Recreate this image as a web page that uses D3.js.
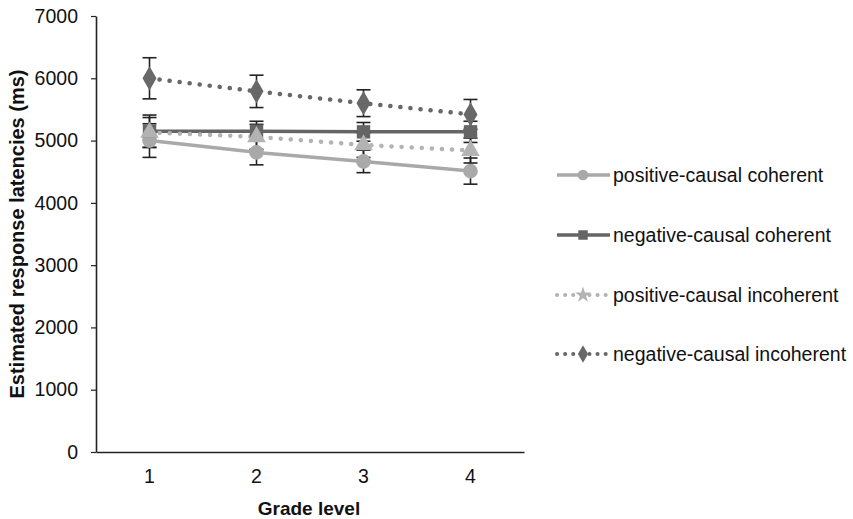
<!DOCTYPE html>
<html><head><meta charset="utf-8">
<script src="https://cdn.jsdelivr.net/npm/d3@7"></script>
<style>body{margin:0;background:#fff}svg{display:block}</style>
</head><body>
<svg id="c" width="853" height="519"></svg>
<script>
const grades = ["1","2","3","4"];
const yTicks = [0,1000,2000,3000,4000,5000,6000,7000];
const seriesNames = ["positive-causal coherent","negative-causal coherent","positive-causal incoherent","negative-causal incoherent"];
const posCohMean = [5000,4810,4665,4510];
const posCohErr  = [270,200,180,210];
const negCohMean = [5150,5150,5140,5140];
const negCohErr  = [260,160,150,170];
const posIncMean = [5130,5060,4930,4840];
const posIncErr  = [240,200,200,200];
const negIncMean = [6000,5790,5600,5420];
const negIncErr  = [330,260,215,240];

const FONT = "Liberation Sans, Arial, sans-serif";
const styles = [
  {color:"#a9a9a9", dash:null, width:3.5, shape:d3.symbolCircle, size:170},
  {color:"#656565", dash:null, width:3.5, shape:d3.symbolSquare, size:180},
  {color:"#b3b3b3", dash:"0.1,10", width:4.5, shape:d3.symbolTriangle, size:150, cap:"round"},
  {color:"#686868", dash:"0.1,10", width:4.5, shape:d3.symbolDiamond, size:170, cap:"round"}
];
const data = [
  {name:seriesNames[0], mean:posCohMean, err:posCohErr},
  {name:seriesNames[1], mean:negCohMean, err:negCohErr},
  {name:seriesNames[2], mean:posIncMean, err:posIncErr},
  {name:seriesNames[3], mean:negIncMean, err:negIncErr}
];

const svg = d3.select("#c");
const x = d3.scaleBand().domain(grades).range([96,524]);
const y = d3.scaleLinear().domain([0,7000]).range([452,16]);

// axes
const yAx = svg.append("g").attr("transform","translate(96,0)")
  .call(d3.axisLeft(y).tickValues(yTicks).tickFormat(d3.format("d")).tickSize(5).tickSizeOuter(0).tickPadding(13));
yAx.select(".domain").attr("stroke","#222").attr("stroke-width",1.6);
yAx.selectAll(".tick line").attr("stroke","#222").attr("stroke-width",1.2);
yAx.selectAll("text").attr("font-family",FONT).attr("font-size",19.5).attr("fill","#111");

const xAx = svg.append("g").attr("transform","translate(0,452)")
  .call(d3.axisBottom(x).tickSize(0).tickPadding(17));
xAx.select(".domain").attr("stroke","#222").attr("stroke-width",1.6);
xAx.selectAll("text").attr("font-family",FONT).attr("font-size",19.5).attr("fill","#111");

svg.append("text").attr("transform","translate(24,234) rotate(-90)").attr("text-anchor","middle")
  .attr("font-family",FONT).attr("font-weight","bold").attr("font-size",20)
  .attr("fill","#111").text("Estimated response latencies (ms)");
svg.append("text").attr("x",309).attr("y",515).attr("text-anchor","middle")
  .attr("font-family",FONT).attr("font-weight","bold").attr("font-size",19)
  .attr("fill","#111").text("Grade level");

const cx = g => x(g) + x.bandwidth()/2;
const line = d3.line().x((d,i)=>cx(grades[i])).y(d=>y(d));

// lines
data.forEach((s,k)=>{
  const st = styles[k];
  svg.append("path").attr("d", line(s.mean)).attr("fill","none")
    .attr("stroke",st.color).attr("stroke-width",st.width)
    .attr("stroke-dasharray",st.dash).attr("stroke-linecap",st.cap||"butt");
});
// error bars
data.forEach((s,k)=>{
  s.mean.forEach((m,i)=>{
    const X = cx(grades[i]);
    const g = svg.append("g").attr("stroke","#222").attr("stroke-width",1.6);
    g.append("line").attr("x1",X).attr("x2",X).attr("y1",y(m+s.err[i])).attr("y2",y(m-s.err[i]));
    g.append("line").attr("x1",X-7).attr("x2",X+7).attr("y1",y(m+s.err[i])).attr("y2",y(m+s.err[i]));
    g.append("line").attr("x1",X-7).attr("x2",X+7).attr("y1",y(m-s.err[i])).attr("y2",y(m-s.err[i]));
  });
});
// markers
data.forEach((s,k)=>{
  const st = styles[k];
  svg.append("g").selectAll("path").data(s.mean).join("path")
    .attr("transform",(d,i)=>`translate(${cx(grades[i])},${y(d)})`)
    .attr("d", d3.symbol().type(st.shape).size(st.size))
    .attr("fill",st.color);
});

// legend
const ly = [175,235,295,354];
data.forEach((s,k)=>{
  const st = styles[k];
  const g = svg.append("g").attr("transform",`translate(0,${ly[k]})`);
  g.append("line").attr("x1",557).attr("x2",610).attr("y1",0).attr("y2",0)
    .attr("stroke",st.color).attr("stroke-width",st.dash?4:3.5)
    .attr("stroke-dasharray",st.dash ? "0.1,8" : null).attr("stroke-linecap",st.cap||"butt");
  g.append("path").attr("transform","translate(583,0)")
    .attr("d", d3.symbol().type(k===2?d3.symbolStar:st.shape).size(k===2?80:90)).attr("fill",st.color);
  g.append("text").attr("x",613).attr("y",7)
    .attr("font-family",FONT).attr("font-size",19.5).attr("fill","#111")
    .text(s.name);
});
</script>
</body></html>
